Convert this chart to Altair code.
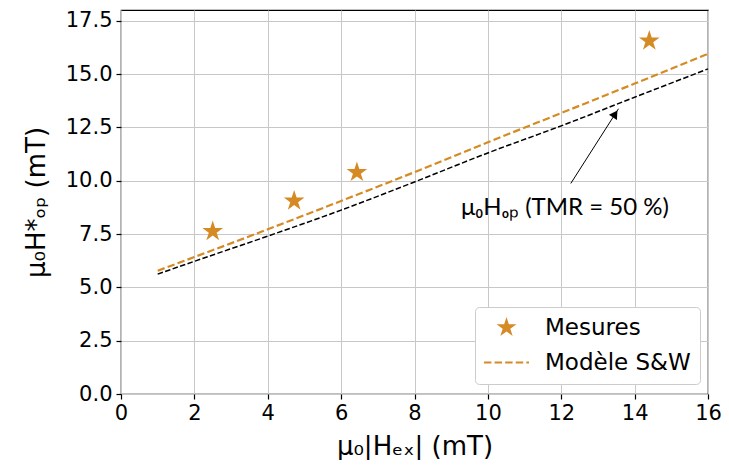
import altair as alt
import pandas as pd

ORANGE = "#D68A24"

# Measurements (stars)
meas_x = [2.5, 4.72, 6.43, 14.4]
meas_y = [7.62, 9.05, 10.39, 16.55]

# Model S&W (orange dashed) and TMR=50% curve (black dashed)
model_x = [1, 2, 4, 6, 8, 10, 12, 14, 16]
model_y = [5.78, 6.42, 7.72, 9.05, 10.40, 11.80, 13.17, 14.55, 15.95]
tmr_y = [5.62, 6.22, 7.40, 8.62, 9.94, 11.30, 12.57, 13.91, 15.24]

series_names = ["Mesures", "Modèle S&W"]
x_ticks = [0, 2, 4, 6, 8, 10, 12, 14, 16]
y_ticks = [0, 2.5, 5, 7.5, 10, 12.5, 15, 17.5]

# Annotation
arrow_start = [12.26, 9.87]
arrow_tip = [13.56, 13.37]
arrow_head = [13.47, 13.13]
note_pos = [12.1, 8.70]
note_text = ["μ₀Hₒₚ (TMR = 50 %)"]

STAR = ("M0,-1L0.2245,-0.309L0.9511,-0.309L0.3633,0.118L0.5878,0.809L0,0.382"
        "L-0.5878,0.809L-0.3633,0.118L-0.9511,-0.309L-0.2245,-0.309Z")
# legend glyph for the dashed model line, as thin filled dashes
DASH = ("M-2.145,-0.105L-1.44,-0.105L-1.44,0.105L-2.145,0.105Z"
        "M-1.135,-0.105L-0.43,-0.105L-0.43,0.105L-1.135,0.105Z"
        "M-0.125,-0.105L0.58,-0.105L0.58,0.105L-0.125,0.105Z"
        "M0.885,-0.105L1.59,-0.105L1.59,0.105L0.885,0.105Z"
        "M1.895,-0.105L2.145,-0.105L2.145,0.105L1.895,0.105Z")

df_meas = pd.DataFrame({"x": meas_x, "y": meas_y, "series": ["Mesures"] * len(meas_x)})
df_model = pd.DataFrame({"x": model_x, "y": model_y})
df_tmr = pd.DataFrame({"x": model_x, "y": tmr_y})
df_arrow = pd.DataFrame({"x": [arrow_start[0]], "y": [arrow_start[1]],
                         "x2": [arrow_tip[0]], "y2": [arrow_tip[1]]})
df_head = pd.DataFrame({"x": [arrow_head[0]], "y": [arrow_head[1]]})
df_note = pd.DataFrame({"x": [note_pos[0]], "y": [note_pos[1]], "t": note_text})

xscale = alt.Scale(domain=[0, 16], nice=False, zero=False, padding=0)
yscale = alt.Scale(domain=[0, 18], nice=False, padding=0)

xaxis = alt.Axis(values=x_ticks, title="μ₀|Hₑₓ| (mT)", format="d", labelFlush=False)
yaxis = alt.Axis(values=y_ticks, title="μ₀H*ₒₚ (mT)", format=".1f", labelFlush=False)

X = alt.X("x:Q", scale=xscale, axis=xaxis)
Y = alt.Y("y:Q", scale=yscale, axis=yaxis)

tmr = alt.Chart(df_tmr).mark_line(color="black", strokeWidth=1.5, strokeDash=[5.5, 2.4],
                                  interpolate="monotone").encode(x=X, y=Y)
model = alt.Chart(df_model).mark_line(color=ORANGE, strokeWidth=2.2, strokeDash=[7.4, 3.2],
                                      interpolate="monotone").encode(x=X, y=Y)

points = alt.Chart(df_meas).mark_point(filled=True, color=ORANGE, opacity=1, size=470,
                                       strokeWidth=0).encode(
    x=X, y=Y,
    shape=alt.Shape("series:N", scale=alt.Scale(domain=series_names, range=[STAR, DASH]),
                    legend=alt.Legend(title=None, orient="none", legendX=354, legendY=297,
                                      padding=9, fillColor="white", strokeColor="#cccccc",
                                      cornerRadius=4, labelFont="DejaVu Sans", labelFontSize=23,
                                      labelColor="black", symbolSize=440, symbolOffset=11,
                                      rowPadding=11, labelOffset=27,
                                      symbolFillColor=ORANGE, symbolOpacity=1)),
)

arrow = alt.Chart(df_arrow).mark_rule(color="black", strokeWidth=1).encode(
    x=X, y=Y, x2="x2:Q", y2="y2:Q")
head = alt.Chart(df_head).mark_point(shape="triangle-up", filled=True, color="black", opacity=1,
                                     size=90, angle=33).encode(x=X, y=Y)
note = alt.Chart(df_note).mark_text(font="Lato", fontSize=24, color="black", align="center",
                                    baseline="middle").encode(x=X, y=Y, text="t:N")

chart = alt.layer(tmr, model, points, arrow, head, note).properties(
    width=587, height=384,
    autosize=alt.AutoSizeParams(type="none"),
    padding={"left": 113, "top": 2, "right": 13, "bottom": 66},
).configure_view(stroke="black", strokeWidth=1.2).configure_axis(
    grid=True, gridColor="#c8c8c8", gridWidth=1, domain=False,
    tickColor="black", tickSize=5, tickWidth=1.2,
    labelFont="DejaVu Sans", labelFontSize=21, labelColor="black", labelPadding=3,
    titleFont="DejaVu Sans", titleFontSize=26, titleFontWeight="normal", titleColor="black",
).configure_axisX(titlePadding=10).configure_axisY(titlePadding=16, labelPadding=4)

chart.save("out.html", embed_options={"renderer": "svg", "actions": False})
